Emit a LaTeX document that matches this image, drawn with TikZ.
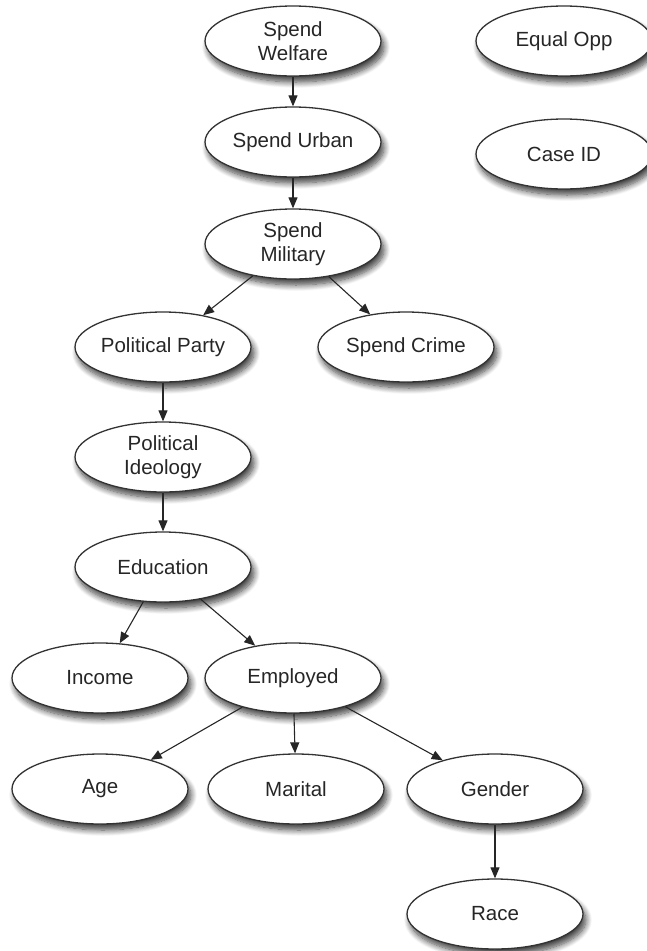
\documentclass[tikz,border=0pt]{standalone}
\usepackage{fontspec}
\setmainfont{Liberation Sans}
\usetikzlibrary{shapes.geometric,arrows.meta,shadows.blur}
\begin{document}
\begin{tikzpicture}[x=1pt,y=-1pt,
  var/.style={ellipse, draw=black!80, line width=1.3pt, fill=white,
    minimum width=176pt, minimum height=70pt, inner sep=0pt, align=center,
    font=\fontsize{20.5}{24.5}\selectfont, text=black!85,
    blur shadow={shadow xshift=3pt, shadow yshift=-6pt, shadow blur radius=6pt, shadow blur steps=10, shadow opacity=75}},
  edge/.style={-{Triangle[length=11pt,width=9pt]}, line width=1.1pt, draw=black!85}]
\useasboundingbox (0,0) rectangle (646,951);
\node[var] (sw) at (293,41) {Spend\\Welfare};
\node[var] (eo) at (564,41) {Equal Opp};
\node[var] (su) at (293,142) {Spend Urban};
\node[var] (ci) at (564,154) {Case ID};
\node[var] (sm) at (293,244) {Spend\\Military};
\node[var] (pp) at (163,347) {Political Party};
\node[var] (sc) at (406,347) {Spend Crime};
\node[var] (pi) at (163,457) {Political\\Ideology};
\node[var] (ed) at (163,567) {Education};
\node[var] (inc) at (100,678) {Income};
\node[var] (em) at (293,678) {Employed};
\node[var] (age) at (100,789) {Age};
\node[var] (mar) at (296,789) {Marital};
\node[var] (gen) at (495,789) {Gender};
\node[var] (race) at (495,914) {Race};
\draw[edge] (sw) -- (su);
\draw[edge] (su) -- (sm);
\draw[edge] (sm) -- (pp);
\draw[edge] (sm) -- (sc);
\draw[edge] (pp) -- (pi);
\draw[edge] (pi) -- (ed);
\draw[edge] (ed) -- (inc);
\draw[edge] (ed) -- (em);
\draw[edge] (em) -- (age);
\draw[edge] (em) -- (mar);
\draw[edge] (em) -- (gen);
\draw[edge] (gen) -- (race);
\end{tikzpicture}
\end{document}
